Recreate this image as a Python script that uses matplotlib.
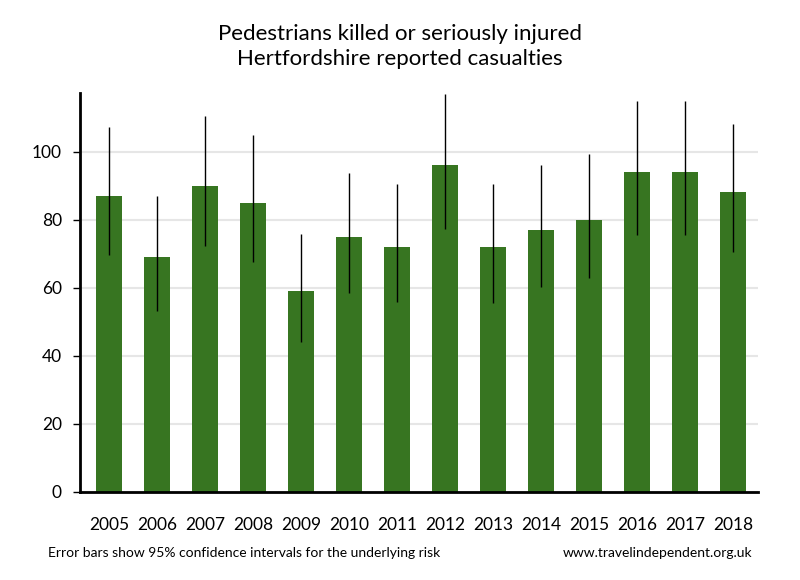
import numpy as np
import matplotlib.pyplot as plt

plt.rcParams['font.family'] = ['Lato', 'DejaVu Sans']

years = ['2005', '2006', '2007', '2008', '2009', '2010', '2011',
         '2012', '2013', '2014', '2015', '2016', '2017', '2018']
casualties = [87, 69, 90, 85, 59, 75, 72, 96, 72, 77, 80, 94, 94, 88]
ci_low = [69.6, 53.2, 72.2, 67.7, 44.1, 58.5, 55.8, 77.4, 55.6, 60.3, 63.0, 75.6, 75.6, 70.4]
ci_high = [107.1, 87.1, 110.6, 105.0, 75.9, 93.8, 90.6, 117.0, 90.6, 96.2, 99.4, 115.0, 115.0, 108.2]

x = np.arange(len(years))
values = np.array(casualties)
err = [values - np.array(ci_low), np.array(ci_high) - values]

fig = plt.figure(figsize=(8, 5.8), dpi=100)
ax = fig.add_axes([0.1, 0.152, 0.8475, 0.688])

ax.bar(x, values, width=0.53, color='#377521', zorder=2)
ax.errorbar(x, values, yerr=err, fmt='none', ecolor='black',
            elinewidth=1, capsize=0, zorder=3)

ax.set_xlim(-0.6, 13.52)
ax.set_ylim(0, 117.3)
ax.set_yticks([0, 20, 40, 60, 80, 100])
ax.yaxis.grid(True, color='#e6e6e6', linewidth=1.5, zorder=0)
ax.set_axisbelow(True)
ax.set_xticks(x)
ax.set_xticklabels(years)
ax.tick_params(axis='x', length=0, pad=18, labelsize=12.5)
ax.tick_params(axis='y', length=5, width=1, labelsize=12.5, pad=8)

for s in ['top', 'right']:
    ax.spines[s].set_visible(False)
ax.spines['left'].set_linewidth(2)
ax.spines['bottom'].set_linewidth(2)

# title sits lower in the reference, two lines ~30px apart
fig.text(0.5, 0.92, 'Pedestrians killed or seriously injured\nHertfordshire reported casualties',
         ha='center', va='center', fontsize=16, linespacing=1.3)
fig.text(0.06, 0.046, 'Error bars show 95% confidence intervals for the underlying risk',
         ha='left', va='center', fontsize=10)
fig.text(0.94, 0.046, 'www.travelindependent.org.uk',
         ha='right', va='center', fontsize=10)

fig.savefig('out.png', dpi=100)
